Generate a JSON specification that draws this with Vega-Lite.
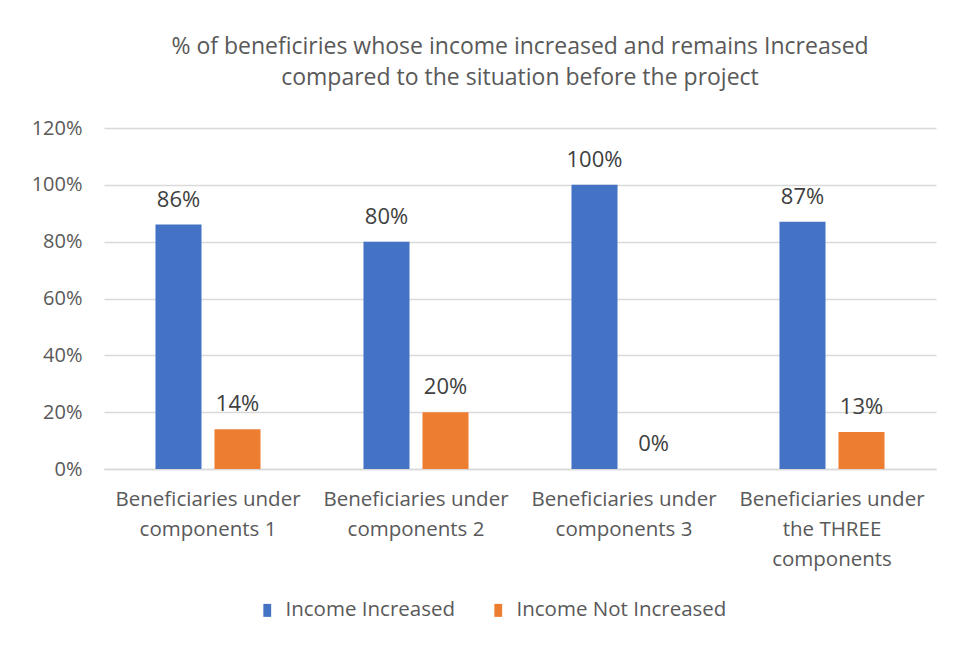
{
  "$schema": "https://vega.github.io/schema/vega-lite/v6.json",
  "width": 832,
  "height": 341,
  "autosize": "none",
  "padding": {"left": 104, "top": 128, "right": 18, "bottom": 177},
  "background": "white",
  "view": {"stroke": null},
  "title": {
    "text": ["% of beneficiries whose income increased and remains Increased", "compared to the situation before the project"],
    "font": "Open Sans",
    "fontSize": 23,
    "fontWeight": "normal",
    "color": "#595959",
    "lineHeight": 31,
    "offset": 28,
    "anchor": "middle"
  },
  "data": {
    "values": [
      {"category": "Beneficiaries under components 1", "series": "Income Increased", "value": 0.86},
      {"category": "Beneficiaries under components 1", "series": "Income Not Increased", "value": 0.14},
      {"category": "Beneficiaries under components 2", "series": "Income Increased", "value": 0.80},
      {"category": "Beneficiaries under components 2", "series": "Income Not Increased", "value": 0.20},
      {"category": "Beneficiaries under components 3", "series": "Income Increased", "value": 1.00},
      {"category": "Beneficiaries under components 3", "series": "Income Not Increased", "value": 0.00},
      {"category": "Beneficiaries under the THREE components", "series": "Income Increased", "value": 0.87},
      {"category": "Beneficiaries under the THREE components", "series": "Income Not Increased", "value": 0.13}
    ]
  },
  "encoding": {
    "x": {
      "field": "category",
      "type": "nominal",
      "sort": null,
      "scale": {"paddingInner": 0.495, "paddingOuter": 0.2475},
      "axis": {
        "title": null,
        "labelAngle": 0,
        "labelFont": "Open Sans",
        "labelFontSize": 20.5,
        "labelColor": "#595959",
        "labelLineHeight": 30,
        "labelPadding": 20,
        "labelLimit": 0,
        "labelExpr": "datum.label == 'Beneficiaries under the THREE components' ? ['Beneficiaries under', 'the THREE', 'components'] : [slice(datum.label, 0, 19), slice(datum.label, 20)]",
        "ticks": false,
        "domainColor": "#d9d9d9",
        "domainWidth": 1.5,
        "grid": false
      }
    },
    "xOffset": {
      "field": "series",
      "type": "nominal",
      "sort": ["Income Increased", "Income Not Increased"],
      "scale": {"paddingInner": 0.22, "paddingOuter": 0}
    },
    "y": {
      "field": "value",
      "type": "quantitative",
      "scale": {"domain": [0, 1.2], "nice": false},
      "axis": {
        "title": null,
        "values": [0, 0.2, 0.4, 0.6, 0.8, 1.0, 1.2],
        "format": ".0%",
        "labelFont": "Open Sans",
        "labelFontSize": 20,
        "labelColor": "#595959",
        "labelPadding": 22,
        "ticks": false,
        "domain": false,
        "gridColor": "#d9d9d9",
        "gridWidth": 1.5
      }
    }
  },
  "layer": [
    {
      "mark": {"type": "bar"},
      "encoding": {
        "color": {
          "field": "series",
          "type": "nominal",
          "scale": {"domain": ["Income Increased", "Income Not Increased"], "range": ["#4472C4", "#ED7D31"]},
          "legend": {
            "title": null,
            "orient": "none",
            "direction": "horizontal",
            "legendX": 153,
            "legendY": 472,
            "symbolType": "M-0.6,-1H0.6V1H-0.6Z",
            "symbolSize": 169,
            "symbolStrokeWidth": 0,
            "labelFont": "Open Sans",
            "labelFontSize": 20.5,
            "labelColor": "#595959",
            "labelOffset": 8,
            "labelLimit": 0,
            "columnPadding": 33
          }
        }
      }
    },
    {
      "mark": {"type": "text", "baseline": "alphabetic", "dy": -18, "font": "Open Sans", "fontSize": 22, "color": "#404040"},
      "encoding": {
        "text": {"field": "value", "type": "quantitative", "format": ".0%"}
      }
    }
  ]
}
